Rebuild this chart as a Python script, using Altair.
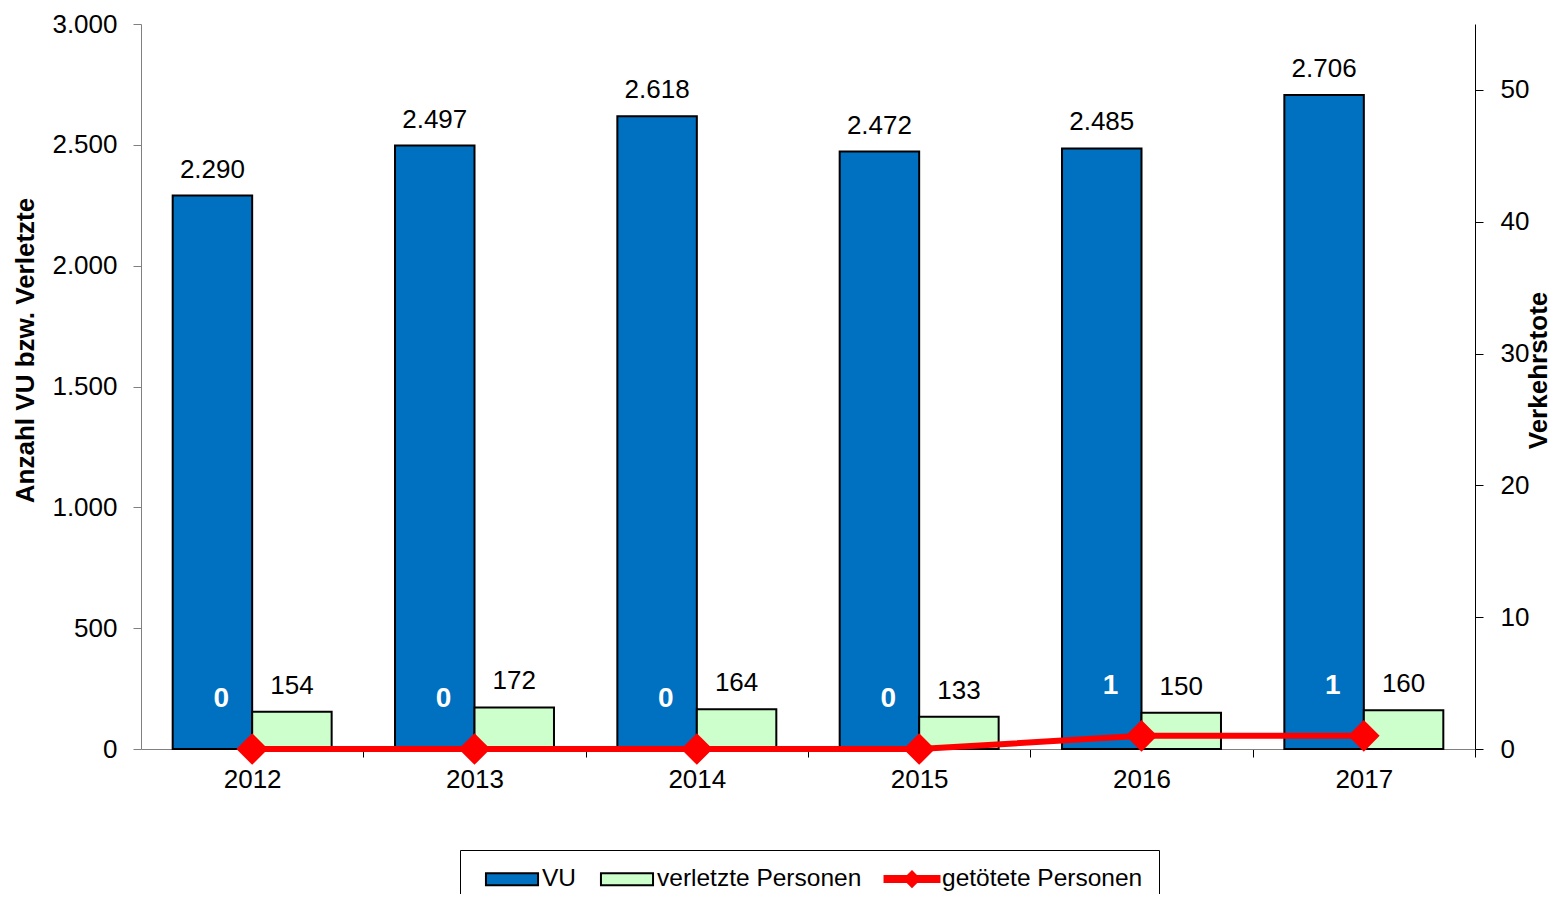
import altair as alt
import pandas as pd

years = ["2012", "2013", "2014", "2015", "2016", "2017"]
vu = [2290, 2497, 2618, 2472, 2485, 2706]
injured = [154, 172, 164, 133, 150, 160]
killed = [0, 0, 0, 0, 1, 1]

series_names = ["VU", "verletzte Personen", "getötete Personen"]
fill_colors = ["#0070C0", "#CCFFCC", "#FF0000"]
stroke_colors = ["#000000", "#000000", "#FF0000"]
rect_path = "M-2.17,-0.5H2.17V0.5H-2.17Z"
line_path = "M-2.29,-0.25H-0.4L0,-0.65L0.4,-0.25H2.29V0.25H0.4L0,0.65L-0.4,0.25H-2.29Z"
shapes = [rect_path, rect_path, line_path]

FONT = "Liberation Sans"

bar_df = pd.DataFrame(
    {"year": years * 2,
     "series": ["VU"] * len(years) + ["verletzte Personen"] * len(years),
     "value": vu + injured}
)
death_df = pd.DataFrame({"year": years, "killed": killed})
legend_df = pd.DataFrame({"series": series_names})

PAD_IN = 0.285
STEP = 1334 / len(years)
HALF_GAP = PAD_IN * STEP / 2

xscale = alt.Scale(domain=years, paddingInner=PAD_IN, paddingOuter=PAD_IN / 2)
xaxis = alt.Axis(
    title=None, labelAngle=0, labelFont=FONT, labelFontSize=26, labelColor="#000",
    domainColor="#808080", tickColor="#000", tickSize=8, labelPadding=9,
    bandPosition=1, tickOffset=HALF_GAP, labelOffset=-HALF_GAP, grid=False,
)
xoff = alt.XOffset("series:N", scale=alt.Scale(domain=["VU", "verletzte Personen"],
                                                paddingInner=0, paddingOuter=0))
yleft_scale = alt.Scale(domain=[0, 3000], nice=False, zero=True)
yright_scale = alt.Scale(domain=[0, 55], nice=False, zero=True)

left_axis = alt.Axis(
    values=[0, 500, 1000, 1500, 2000, 2500, 3000],
    labelExpr="replace(format(datum.value, ','), ',', '.')",
    labelFont=FONT, labelFontSize=26, labelColor="#000", labelPadding=16,
    domainColor="#808080", tickColor="#808080", tickSize=8, grid=False,
    title="Anzahl VU bzw. Verletzte", titleFont=FONT, titleFontSize=26,
    titleFontWeight="bold", titleColor="#000", titleAngle=270,
    titleX=-116, titleY=326, titleAlign="center", titleBaseline="middle",
)
right_axis = alt.Axis(
    orient="right", values=[0, 10, 20, 30, 40, 50],
    labelFont=FONT, labelFontSize=26, labelColor="#000", labelPadding=17,
    domainColor="#000", tickColor="#000", tickSize=8, grid=False,
    title="Verkehrstote", titleFont=FONT, titleFontSize=26,
    titleFontWeight="bold", titleColor="#000", titleAngle=270,
    titleX=63, titleY=346, titleAlign="center", titleBaseline="middle",
)

X = alt.X("year:N", scale=xscale, axis=xaxis)

bars = alt.Chart(bar_df).transform_calculate(
    barcolor="datum.series == 'VU' ? '#0070C0' : '#CCFFCC'"
).mark_bar(stroke="#000", strokeWidth=2).encode(
    x=X,
    xOffset=xoff,
    y=alt.Y("value:Q", scale=yleft_scale, axis=left_axis),
    fill=alt.Fill("barcolor:N", scale=None),
)

bar_labels = alt.Chart(bar_df).transform_calculate(
    label="replace(format(datum.value, ','), ',', '.')"
).mark_text(font=FONT, fontSize=26, color="#000", dy=-26, baseline="middle").encode(
    x=X,
    xOffset=xoff,
    y=alt.Y("value:Q", scale=yleft_scale, axis=left_axis),
    text="label:N",
)

left = alt.layer(bars, bar_labels)

YR = alt.Y("killed:Q", scale=yright_scale, axis=right_axis)
line = alt.Chart(death_df).mark_line(color="#FF0000", strokeWidth=6).encode(x=X, y=YR)
points = alt.Chart(death_df).mark_point(
    shape="diamond", filled=True, size=1000, color="#FF0000", opacity=1
).encode(x=X, y=YR)
death_labels = alt.Chart(death_df).mark_text(
    font=FONT, fontSize=28, fontWeight="bold", color="#FFFFFF",
    dx=-31, dy=-50, baseline="middle"
).encode(x=X, y=YR, text="killed:Q")
right = alt.layer(line, points, death_labels)

legend = alt.Legend(
    title=None, orient="none", legendX=319, legendY=826, direction="horizontal",
    padding=16, strokeColor="#000", fillColor="#fff", cornerRadius=0,
    labelFont=FONT, labelFontSize=24.5, labelColor="#000", labelOffset=17,
    labelLimit=500, symbolSize=576, symbolStrokeWidth=2, symbolOffset=23,
    columnPadding=14,
)
legend_layer = alt.Chart(legend_df).transform_filter("false").mark_point(
    filled=True, opacity=1
).encode(
    fill=alt.Fill("series:N", scale=alt.Scale(domain=series_names, range=fill_colors), legend=legend),
    stroke=alt.Stroke("series:N", scale=alt.Scale(domain=series_names, range=stroke_colors), legend=legend),
    shape=alt.Shape("series:N", scale=alt.Scale(domain=series_names, range=shapes), legend=legend),
)

chart = alt.layer(left, right, legend_layer).resolve_scale(
    y="independent"
).properties(
    width=1334, height=725,
    background="#ffffff",
    autosize=alt.AutoSizeParams(type="none"),
    padding={"left": 133, "top": 16, "right": 78, "bottom": 145},
).configure_view(stroke=None)

chart.save("out.html", embed_options={"renderer": "svg", "actions": False})
